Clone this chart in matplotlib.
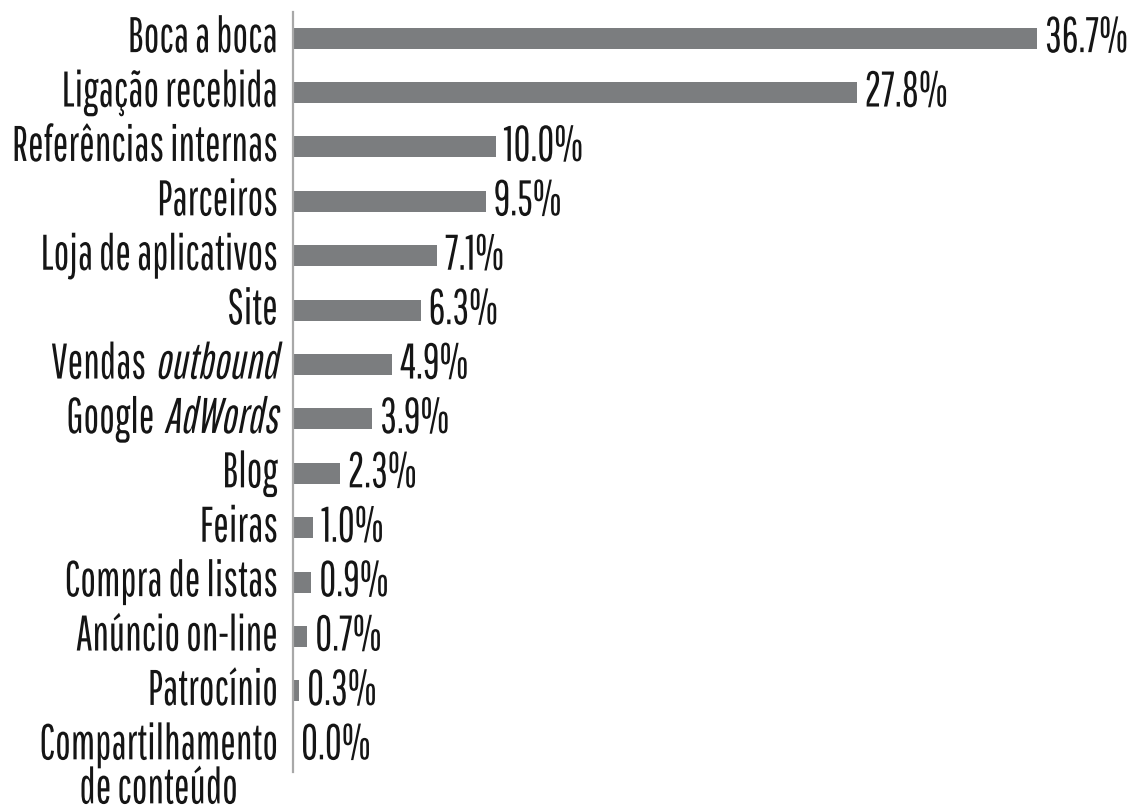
import matplotlib
matplotlib.use("Agg")
import matplotlib.pyplot as plt
from matplotlib.patheffects import AbstractPathEffect
from matplotlib.text import Text
from matplotlib.textpath import TextPath
from matplotlib.font_manager import FontProperties, fontManager
from matplotlib.transforms import Affine2D, Bbox, offset_copy

# ---- data ----
categories = ["Boca a boca", "Ligação recebida", "Referências internas", "Parceiros",
              "Loja de aplicativos", "Site", "Vendas", "Google", "Blog", "Feiras",
              "Compra de listas", "Anúncio on-line", "Patrocínio",
              "Compartilhamento\nde conteúdo"]
italic_parts = ["", "", "", "", "", "", "outbound", "AdWords", "", "", "", "", "", ""]
values = [36.7, 27.8, 10.0, 9.5, 7.1, 6.3, 4.9, 3.9, 2.3, 1.0, 0.9, 0.7, 0.3, 0.0]

# ---- style ----
W, H = 1127, 812
TXT = "#151515"
BAR = "#7b7d7f"
AXC = "#a8a8a8"
CAP_PX = 35.0          # cap height of the labels in the reference
WIDE_LABEL_PX = 266.0  # width of "Referências internas" in the reference

prefs = ["Pathway Gothic One", "BenchNine", "Roboto Condensed", "Roboto"]
available = {f.name for f in fontManager.ttflist}
FONT = next(f for f in prefs if f in available)
_fp = FontProperties(family=FONT, weight="normal")
_cap = TextPath((0, 0), "H", size=100, prop=_fp).get_extents().height / 100
FS = CAP_PX * 72 / 100 / _cap


class Condense(AbstractPathEffect):
    """Horizontal scale (and optional slant) of glyph outlines about an anchor."""
    def __init__(self, sx, slant=0.0):
        super().__init__()
        self.sx = sx
        self.slant = slant
        self.x0 = 0.0

    def draw_path(self, renderer, gc, tpath, affine, rgbFace=None):
        x0 = self.x0
        y0 = affine.get_matrix()[1, 2]
        t = (affine + Affine2D().translate(-x0, -y0).scale(self.sx, 1)
             .skew_deg(self.slant, 0).translate(x0, y0))
        renderer.draw_path(gc, tpath, t, rgbFace)


class CondensedText(Text):
    """A real Text artist drawn with a horizontal scale factor."""
    def __init__(self, *args, sx=1.0, anchor="left", slant=0.0, **kwargs):
        super().__init__(*args, **kwargs)
        self._sx = sx
        self._anchor = anchor
        self._eff = Condense(sx, slant)
        self.set_path_effects([self._eff])

    def _anchor_x(self, bb):
        if self._anchor == "left":
            return bb.x0
        if self._anchor == "right":
            return bb.x1
        return 0.5 * (bb.x0 + bb.x1)

    def draw(self, renderer):
        bb = Text.get_window_extent(self, renderer)
        self._eff.x0 = self._anchor_x(bb)
        super().draw(renderer)

    def get_window_extent(self, renderer=None, dpi=None):
        bb = Text.get_window_extent(self, renderer, dpi)
        x0 = self._anchor_x(bb)
        return Bbox.from_extents(x0 + (bb.x0 - x0) * self._sx, bb.y0,
                                 x0 + (bb.x1 - x0) * self._sx, bb.y1)


fig = plt.figure(figsize=(W / 100, H / 100), dpi=100)
fig.patch.set_facecolor("white")
ax_left, ax_top, ax_bot = 293, 13, 773
ax = fig.add_axes([ax_left / W, (H - ax_bot) / H, (W - ax_left) / W, (ax_bot - ax_top) / H])

row_px = 54.4
first_center = 39
px_per_unit = 20.27
n = len(values)
ypos = list(range(n))
ax.set_ylim((ax_bot - first_center) / row_px, -(first_center - ax_top) / row_px)
ax.set_xlim(0, (W - ax_left) / px_per_unit)

ax.barh(ypos, values, height=21 / row_px, color=BAR, edgecolor="none", zorder=2)

for s in ["top", "right", "bottom"]:
    ax.spines[s].set_visible(False)
ax.spines["left"].set_color(AXC)
ax.spines["left"].set_linewidth(1.6)
ax.set_xticks([])
ax.set_yticks([])
ax.patch.set_alpha(0)

renderer = fig.canvas.get_renderer()
font_kw = dict(fontsize=FS, family=FONT, weight="normal", color=TXT)

probe = Text(0, 0, "Referências internas", **font_kw)
probe.set_figure(fig)
sx = WIDE_LABEL_PX / probe.get_window_extent(renderer).width

span = W - ax_left
label_right_px = 278
tr = ax.get_yaxis_transform()
base_off = 0.26


def add_label(xpx, y, s, ha, anchor, slant=0.0):
    t = CondensedText((xpx - ax_left) / span, y, s, transform=tr, ha=ha,
                      va="baseline", sx=sx, anchor=anchor, slant=slant,
                      clip_on=False, **font_kw)
    ax.add_artist(t)
    return t


for i, (cat, ital) in enumerate(zip(categories, italic_parts)):
    yb = i + base_off
    lines = cat.split("\n")
    if ital:
        t_it = add_label(label_right_px, yb, ital, "right", "right", slant=11)
        w_it = t_it.get_window_extent(renderer).width
        space = FS * 100 / 72 * 0.22 * sx
        add_label(label_right_px - w_it - space, yb, lines[0], "right", "right")
    else:
        t0 = add_label(label_right_px, yb, lines[0], "right", "right")
        if len(lines) > 1:
            w0 = t0.get_window_extent(renderer).width
            add_label(label_right_px - w0 / 2, yb + 44 / row_px, lines[1],
                      "center", "center")

# value labels
val_tr = offset_copy(ax.transData, fig=fig, x=8, y=0, units="dots")
for i, v in enumerate(values):
    t = CondensedText(v, i + base_off, f"{v:.1f}%", transform=val_tr, ha="left",
                      va="baseline", sx=sx, anchor="left", clip_on=False, **font_kw)
    ax.add_artist(t)

fig.savefig("out.png", dpi=100, facecolor="white")
